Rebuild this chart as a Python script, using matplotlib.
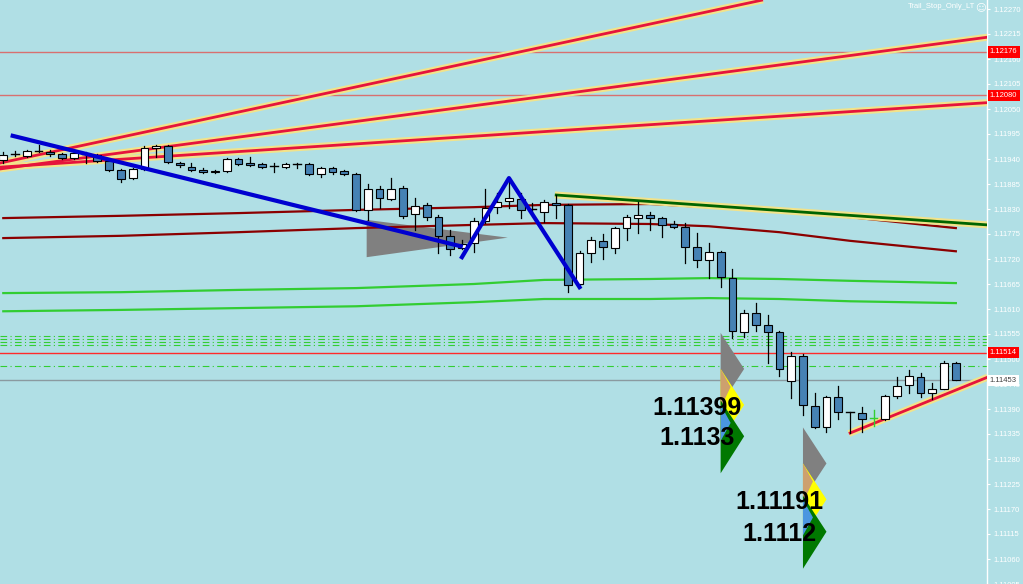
import numpy as np
import matplotlib.pyplot as plt
from matplotlib.patches import Rectangle, Polygon

width  = 10.23
height = 5.84
bg     = '#B0DFE5'

plt.rc('font', family=['Liberation Sans', 'DejaVu Sans'])

# ---- candles, oldest -> newest ----
opens  = [1.11938, 1.11951, 1.11947, 1.11958, 1.11955, 1.11951, 1.11942, 1.11953, 1.11949, 1.11936,
          1.11916, 1.11898, 1.11918, 1.11964, 1.11969, 1.11931, 1.11922, 1.11916, 1.11911, 1.11914,
          1.11940, 1.11931, 1.11929, 1.11925, 1.11922, 1.11929, 1.11929, 1.11907, 1.11920, 1.11914,
          1.11907, 1.11828, 1.11874, 1.11852, 1.11876, 1.11819, 1.11839, 1.11812, 1.11771, 1.11744,
          1.11755, 1.11804, 1.11834, 1.11848, 1.11852, 1.11830, 1.11823, 1.11843, 1.11839, 1.11665,
          1.11733, 1.11760, 1.11744, 1.11788, 1.11810, 1.11817, 1.11810, 1.11797, 1.11790, 1.11746,
          1.11718, 1.11735, 1.11678, 1.11559, 1.11601, 1.11575, 1.11559, 1.11452, 1.11507, 1.11397,
          1.11350, 1.11416, 1.11383, 1.11381, 1.11370, 1.11368, 1.11419, 1.11443, 1.11460, 1.11425,
          1.11434, 1.11491]
highs  = [1.11955, 1.11958, 1.11960, 1.11971, 1.11960, 1.11953, 1.11955, 1.11955, 1.11951, 1.11938,
          1.11918, 1.11920, 1.11969, 1.11971, 1.11971, 1.11933, 1.11931, 1.11920, 1.11916, 1.11942,
          1.11942, 1.11944, 1.11931, 1.11931, 1.11931, 1.11931, 1.11931, 1.11922, 1.11922, 1.11916,
          1.11909, 1.11885, 1.11881, 1.11898, 1.11881, 1.11854, 1.11843, 1.11817, 1.11784, 1.11762,
          1.11810, 1.11874, 1.11865, 1.11894, 1.11865, 1.11843, 1.11850, 1.11861, 1.11841, 1.11738,
          1.11768, 1.11775, 1.11790, 1.11817, 1.11845, 1.11823, 1.11812, 1.11804, 1.11799, 1.11777,
          1.11755, 1.11738, 1.11698, 1.11608, 1.11623, 1.11597, 1.11562, 1.11515, 1.11511, 1.11425,
          1.11419, 1.11441, 1.11384, 1.11394, 1.11388, 1.11421, 1.11460, 1.11476, 1.11469, 1.11447,
          1.11496, 1.11493]
lows   = [1.11931, 1.11947, 1.11944, 1.11955, 1.11947, 1.11940, 1.11940, 1.11931, 1.11933, 1.11914,
          1.11889, 1.11896, 1.11916, 1.11944, 1.11931, 1.11922, 1.11914, 1.11909, 1.11909, 1.11911,
          1.11927, 1.11925, 1.11920, 1.11911, 1.11920, 1.11920, 1.11905, 1.11900, 1.11907, 1.11905,
          1.11826, 1.11806, 1.11832, 1.11850, 1.11810, 1.11784, 1.11806, 1.11733, 1.11729, 1.11742,
          1.11735, 1.11799, 1.11821, 1.11832, 1.11810, 1.11817, 1.11801, 1.11810, 1.11647, 1.11663,
          1.11713, 1.11720, 1.11733, 1.11762, 1.11777, 1.11784, 1.11768, 1.11788, 1.11711, 1.11702,
          1.11678, 1.11658, 1.11546, 1.11548, 1.11562, 1.11491, 1.11463, 1.11414, 1.11377, 1.11348,
          1.11339, 1.11368, 1.11337, 1.11339, 1.11353, 1.11366, 1.11414, 1.11425, 1.11416, 1.11412,
          1.11434, 1.11453]
closes = [1.11949, 1.11950, 1.11958, 1.11957, 1.11951, 1.11942, 1.11953, 1.11952, 1.11936, 1.11916,
          1.11896, 1.11918, 1.11964, 1.11969, 1.11933, 1.11927, 1.11916, 1.11911, 1.11914, 1.11940,
          1.11929, 1.11927, 1.11922, 1.11924, 1.11929, 1.11928, 1.11907, 1.11920, 1.11911, 1.11907,
          1.11828, 1.11874, 1.11854, 1.11874, 1.11815, 1.11837, 1.11812, 1.11771, 1.11742, 1.11753,
          1.11804, 1.11832, 1.11845, 1.11854, 1.11828, 1.11829, 1.11845, 1.11839, 1.11663, 1.11733,
          1.11762, 1.11746, 1.11788, 1.11812, 1.11817, 1.11810, 1.11795, 1.11790, 1.11746, 1.11718,
          1.11735, 1.11680, 1.11562, 1.11601, 1.11575, 1.11559, 1.11478, 1.11507, 1.11399, 1.11350,
          1.11416, 1.11383, 1.11383, 1.11368, 1.11370, 1.11419, 1.11441, 1.11463, 1.11425, 1.11434,
          1.11491, 1.11453]
cross_bar = 74          # bar drawn as a green cross

# ---- moving-average style curves (bar index, price) ----
ma_idx        = [0, 10, 20, 30, 40, 46, 55, 60, 66, 72, 81]
maroon_upper  = [1.11810, 1.11815, 1.11821, 1.11828, 1.11834, 1.11839, 1.11841, 1.11834, 1.11826, 1.11812, 1.11788]
maroon_lower  = [1.11766, 1.11771, 1.11779, 1.11788, 1.11795, 1.11799, 1.11797, 1.11792, 1.11779, 1.11760, 1.11737]
green_upper   = [1.11645, 1.11647, 1.11652, 1.11656, 1.11665, 1.11674, 1.11676, 1.11678, 1.11676, 1.11672, 1.11667]
green_lower   = [1.11605, 1.11608, 1.11612, 1.11616, 1.11625, 1.11632, 1.11632, 1.11634, 1.11632, 1.11627, 1.11623]

# ---- trend lines (bar index, price) ----
red_fan = [((-0.3, 1.11931), (64.6, 1.12290)),
           ((-0.3, 1.11918), (83.7, 1.12208)),
           ((-0.3, 1.11922), (83.7, 1.12064))]
olive_line   = ((46.9, 1.11861), (83.7, 1.11795))
support_line = ((71.9, 1.11336), (83.7, 1.11460))
blue_trend   = ((0.8, 1.11991), (38.9, 1.11748))
zz_idx       = [39, 43, 49]
zz_price     = [1.11724, 1.11898, 1.11658]
gray_fan     = [(30.9, 1.11806), (42.9, 1.11767), (30.9, 1.11724)]

# ---- horizontal levels ----
level_prices = [1.12176, 1.12080, 1.11514, 1.11453]
level_colors = ['#D87070', '#D87070', '#FF2A2A', '#8A9AA0']
dash_levels  = [1.11551, 1.11544, 1.11537, 1.11531, 1.11484]

# ---- target markers ----
mark_idx = [61, 68]
tp1      = [1.11399, 1.11191]
tp2      = [1.1133, 1.1112]
tp1_txt  = ['1.11399', '1.11191']
tp2_txt  = ['1.1133', '1.1112']

yticks = [1.11005, 1.11060, 1.11115, 1.11170, 1.11225, 1.11280, 1.11335, 1.11390, 1.11445,
          1.11500, 1.11555, 1.11610, 1.11665, 1.11720, 1.11775, 1.11830, 1.11885, 1.11940,
          1.11995, 1.12050, 1.12105, 1.12160, 1.12215, 1.12270]

ymin, ymax = 1.11005, 1.122898
xmin, xmax = -0.28, 83.65
px = (ymax - ymin) / 584.0

fig = plt.figure(figsize=(width, height), dpi=100, facecolor=bg)
ax = fig.add_axes([0, 0, 987 / 1023, 1])
ax.set_facecolor(bg)
ax.set_xlim(xmin, xmax)
ax.set_ylim(ymin, ymax)

# levels
for p, c in zip(level_prices, level_colors):
    ax.axhline(p, color=c, lw=1, zorder=1)
for p in dash_levels:
    ax.axhline(p, color='#32CD32', lw=0.8, ls=(0, (6, 3, 1, 3)), zorder=1)

# gray fan
ax.add_patch(Polygon(gray_fan, closed=True, fc='#808080', ec='none', zorder=1.5))

# MA lines
ax.plot(ma_idx, maroon_upper, color='#8B0000', lw=1.6, zorder=2)
ax.plot(ma_idx, maroon_lower, color='#8B0000', lw=1.6, zorder=2)
ax.plot(ma_idx, green_upper, color='#32CD32', lw=1.6, zorder=2)
ax.plot(ma_idx, green_lower, color='#32CD32', lw=1.6, zorder=2)

# glowing trend lines
def glow(p0, p1, col):
    xs = [p0[0], p1[0]]
    ys = [p0[1], p1[1]]
    ax.plot(xs, ys, color='#F2E38A', lw=5, solid_capstyle='butt', zorder=3)
    ax.plot(xs, ys, color=col, lw=2, solid_capstyle='butt', zorder=3.1)

for a, b in red_fan:
    glow(a, b, '#E5143C')
glow(olive_line[0], olive_line[1], '#006400')
glow(support_line[0], support_line[1], '#E5143C')

# candles
bw = 0.66
for i in range(len(opens)):
    o, h, l, c = opens[i], highs[i], lows[i], closes[i]
    if i == cross_bar:
        ax.plot([i, i], [l, h], color='#32CD32', lw=1, zorder=4)
        ax.plot([i - 0.3, i + 0.3], [c, c], color='#32CD32', lw=1, zorder=4)
        continue
    ax.plot([i, i], [l, h], color='black', lw=0.9, zorder=4)
    top, bot = max(o, c), min(o, c)
    if top - bot < px:
        ax.plot([i - bw / 2, i + bw / 2], [c, c], color='black', lw=1, zorder=4.1)
        continue
    fc = 'white' if c > o else '#4682B4'
    ax.add_patch(Rectangle((i - bw / 2, bot), bw, top - bot, fc=fc, ec='black',
                           lw=0.8, zorder=4.1))

# blue lines
ax.plot([blue_trend[0][0], blue_trend[1][0]], [blue_trend[0][1], blue_trend[1][1]],
        color='#0000D0', lw=3, zorder=5)
ax.plot(zz_idx, zz_price, color='#0000D0', lw=3, zorder=5)

# target markers
for L, p1, p2, t1, t2 in zip(mark_idx, tp1, tp2, tp1_txt, tp2_txt):
    w = 2.0
    tri = [
        ([(L, p1 + 72 * px), (L + w, p1 + 36 * px), (L, p1)], '#808080'),
        ([(L, p1 + 36 * px), (L + w, p1), (L, p1 - 36 * px)], '#FFFF00'),
        ([(L, p1 + 36 * px), (L + 0.85, p1 + 18 * px), (L, p1 - 3 * px)], '#CDA06E'),
        ([(L, p2 + 36 * px), (L + w, p2), (L, p2 - 37 * px)], '#007800'),
        ([(L, p1), (L + 0.85, p1 - 18 * px), (L, p1 - 36 * px)], '#4A96E0'),
    ]
    for pts, col in tri:
        ax.add_patch(Polygon(pts, closed=True, fc=col, ec='none', zorder=6))
    ax.text(L - 2, p1 - 3 * px, t1, ha='center', va='center', fontsize=18,
            fontweight='bold', color='black', zorder=7)
    ax.text(L - 2, p2 - 2 * px, t2, ha='center', va='center', fontsize=18,
            fontweight='bold', color='black', zorder=7)

# right price axis
ax.yaxis.tick_right()
ax.set_yticks(yticks)
ax.set_yticklabels(['%.5f' % t for t in yticks])
ax.tick_params(axis='y', colors='white', labelsize=5.5, length=2.5, width=0.8, pad=2)
ax.set_xticks([])
for s in ['top', 'left', 'bottom']:
    ax.spines[s].set_visible(False)
ax.spines['right'].set_color('white')
ax.spines['right'].set_linewidth(1)

tr = ax.get_yaxis_transform()
for p, fc, tc in [(1.12176, '#FF0000', 'white'), (1.12080, '#FF0000', 'white'),
                  (1.11514, '#FF0000', 'white'), (1.11453, 'white', '#404040')]:
    ax.text(1.003, p, '%.5f' % p, transform=tr, ha='left', va='center', fontsize=5.5,
            color=tc, bbox=dict(boxstyle='square,pad=0.3', fc=fc, ec='none'),
            clip_on=False, zorder=10)

fig.text(975 / 1023, 1 - 7 / 584, 'Trail_Stop_Only_LT', ha='right', va='center',
         fontsize=5.5, color='white')
fig.text(981 / 1023, 1 - 7 / 584, '\u263A', ha='center', va='center', fontsize=7.5,
         color='white', family='DejaVu Sans')

fig.savefig('out.png', dpi=100, facecolor=bg)
